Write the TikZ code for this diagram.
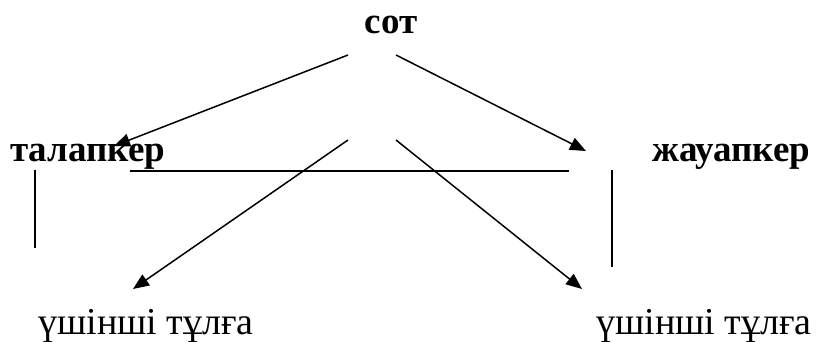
\documentclass[tikz,border=0pt]{standalone}
\usepackage{fontspec}
\setmainfont{Liberation Serif}
\usetikzlibrary{arrows.meta}

\begin{document}
\begin{tikzpicture}[x=1pt, y=-1pt, inner sep=0pt,
  party node/.style={font=\fontsize{37}{40}\selectfont\bfseries, anchor=base west},
  third node/.style={font=\fontsize{38}{40}\selectfont, anchor=base west},
  link/.style={-{Triangle[length=16pt,width=13pt]}, line width=1.5pt}]
\useasboundingbox (0,0) rectangle (816,341);
\node[party node, anchor=base] (sot) at (391,33) {сот};
\node[party node] (tal) at (10,161)  {талапкер};
\node[party node] (zha) at (652,161) {жауапкер};
\node[third node] (ush1) at (38,334)  {үшінші тұлға};
\node[third node] (ush2) at (596,334) {үшінші тұлға};
% free ends of the connectors
\coordinate (sotL) at (348,55);
\coordinate (sotR) at (396,55);
\coordinate (midL) at (348,140);
\coordinate (midR) at (396,140);
\coordinate (talTip) at (114,146);
\coordinate (zhaTip) at (586,151);
\coordinate (u1Tip) at (133,289);
\coordinate (u2Tip) at (582,289);
\coordinate (hL) at (130,171);
\coordinate (hR) at (569,171);
\coordinate (vL1) at (35,170);
\coordinate (vL2) at (35,248);
\coordinate (vR1) at (612,170);
\coordinate (vR2) at (612,267);
\path
(sotL) edge [link] (talTip)
(sotR) edge [link] (zhaTip)
(midL) edge [link] (u1Tip)
(midR) edge [link] (u2Tip);
\draw[line width=1.8pt] (hL) -- (hR);
\draw[line width=1.5pt] (vL1) -- (vL2);
\draw[line width=1.5pt] (vR1) -- (vR2);
\end{tikzpicture}
\end{document}
